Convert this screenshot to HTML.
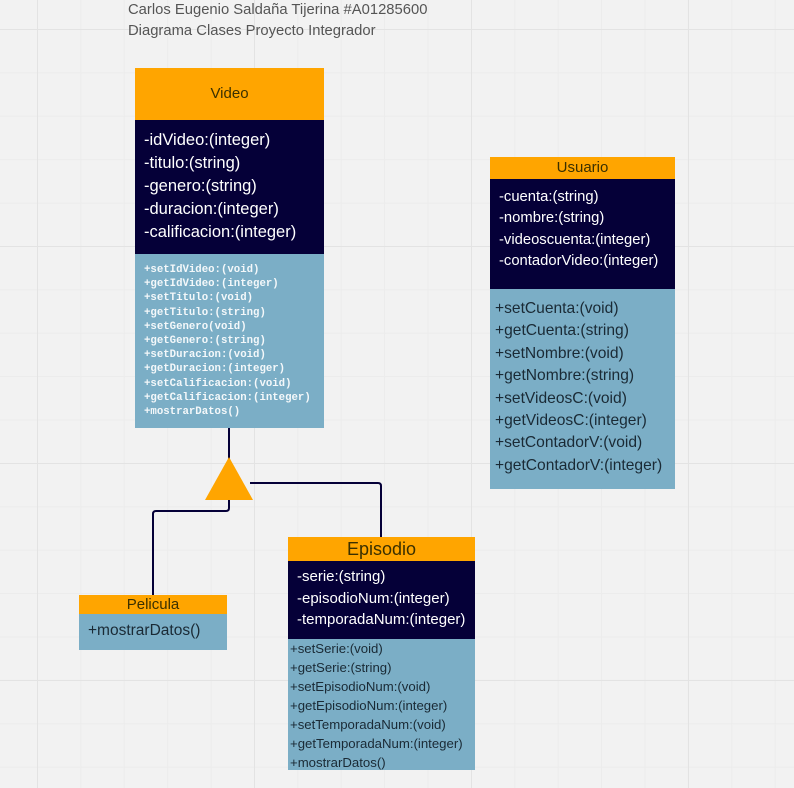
<!DOCTYPE html>
<html><head><meta charset="utf-8"><style>
*{margin:0;padding:0;box-sizing:border-box}
body{width:794px;height:788px;overflow:hidden;position:relative;background-color:#f2f2f2;
background-image:
linear-gradient(to right,#e3e3e3 1px,transparent 1px),
linear-gradient(to bottom,#e3e3e3 1px,transparent 1px),
linear-gradient(to right,#ececec 1px,transparent 1px),
linear-gradient(to bottom,#ececec 1px,transparent 1px);
background-size:217px 217px,217px 217px,43.4px 43.4px,43.4px 43.4px;
background-position:37px 0,0 29px,37px 0,0 29px;
font-family:"Liberation Sans",sans-serif}
.a{position:absolute}
.or{background:#ffa500;color:#3a3000;text-align:center}
.dk{background:#050038;color:#fff}
.lt{background:#7baec6;color:#1a2a35}
.title{left:128px;top:0;font-size:14.8px;line-height:21px;color:#555}
</style></head><body>
<div class="a title">Carlos Eugenio Saldaña Tijerina #A01285600<br>Diagrama Clases Proyecto Integrador</div>

<svg class="a" style="left:0;top:0" width="794" height="788">
<g fill="none" stroke="#050038" stroke-width="2">
<path d="M229 428 V460"/>
<path d="M229 498 V508 Q229 511 226 511 H156 Q153 511 153 514 V596"/>
<path d="M250 483 H378 Q381 483 381 486 V538"/>
</g>
<polygon points="229,457 205,500 253,500" fill="#ffa500"/>
</svg>

<div class="a or" style="left:135px;top:68px;width:189px;height:52px;line-height:52px;font-size:15px">Video</div>
<div class="a dk" style="left:135px;top:120px;width:189px;height:134px;padding:9px 0 0 9px;font-size:16.5px;line-height:23px">-idVideo:(integer)<br>-titulo:(string)<br>-genero:(string)<br>-duracion:(integer)<br>-calificacion:(integer)</div>
<div class="a lt" style="left:135px;top:254px;width:189px;height:174px;padding:9px 0 0 9px;font-family:'Liberation Mono',monospace;font-weight:bold;font-size:10.7px;line-height:14.2px;color:#f4f8fa">+setIdVideo:(void)<br>+getIdVideo:(integer)<br>+setTitulo:(void)<br>+getTitulo:(string)<br>+setGenero(void)<br>+getGenero:(string)<br>+setDuracion:(void)<br>+getDuracion:(integer)<br>+setCalificacion:(void)<br>+getCalificacion:(integer)<br>+mostrarDatos()</div>

<div class="a or" style="left:490px;top:157px;width:185px;height:22px;line-height:22px;font-size:15px">Usuario</div>
<div class="a dk" style="left:490px;top:179px;width:185px;height:110px;padding:8px 0 0 9px;font-size:14.8px;line-height:21.3px">-cuenta:(string)<br>-nombre:(string)<br>-videoscuenta:(integer)<br>-contadorVideo:(integer)</div>
<div class="a lt" style="left:490px;top:289px;width:185px;height:200px;padding:9px 0 0 5px;font-size:15.6px;line-height:22.4px">+setCuenta:(void)<br>+getCuenta:(string)<br>+setNombre:(void)<br>+getNombre:(string)<br>+setVideosC:(void)<br>+getVideosC:(integer)<br>+setContadorV:(void)<br>+getContadorV:(integer)</div>

<div class="a or" style="left:288px;top:537px;width:187px;height:24px;line-height:24px;font-size:18px">Episodio</div>
<div class="a dk" style="left:288px;top:561px;width:187px;height:78px;padding:5px 0 0 9px;font-size:15px;line-height:21.5px">-serie:(string)<br>-episodioNum:(integer)<br>-temporadaNum:(integer)</div>
<div class="a lt" style="left:288px;top:639px;width:187px;height:131px;padding:0 0 0 2px;font-size:13.2px;line-height:19px">+setSerie:(void)<br>+getSerie:(string)<br>+setEpisodioNum:(void)<br>+getEpisodioNum:(integer)<br>+setTemporadaNum:(void)<br>+getTemporadaNum:(integer)<br>+mostrarDatos()</div>

<div class="a or" style="left:79px;top:595px;width:148px;height:19px;line-height:19px;font-size:15px">Pelicula</div>
<div class="a lt" style="left:79px;top:614px;width:148px;height:36px;padding:7px 0 0 9px;font-size:15.5px;line-height:20px">+mostrarDatos()</div>
</body></html>
